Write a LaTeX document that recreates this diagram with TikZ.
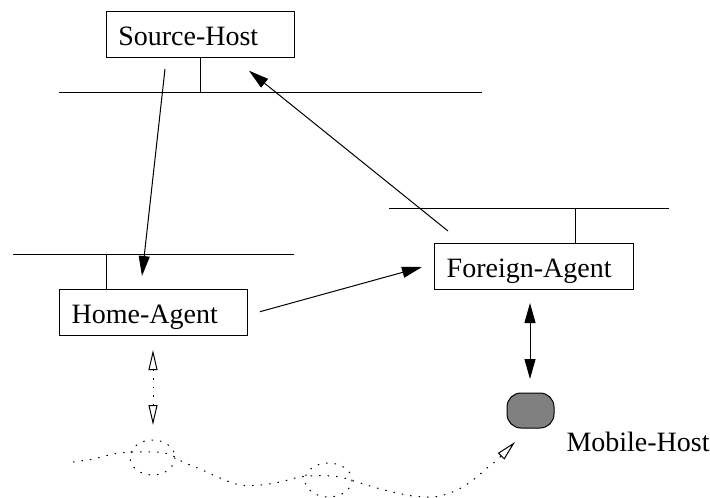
\documentclass[tikz,border=0pt]{standalone}
\usepackage{fontspec}
\setmainfont{Liberation Serif}
\usetikzlibrary{arrows.meta}
\begin{document}
\begin{tikzpicture}[x=1pt,y=-1pt,line width=1pt,
  hostbox/.style={draw,rectangle,inner ysep=0pt,text height=23.4pt,text depth=0pt,
    align=left,minimum height=46pt,font=\fontsize{28}{30}\selectfont},
  bus/.style={line width=1pt},
  solidarrow/.style={-{Triangle[length=20pt,width=11pt]}},
  dotline/.style={dash pattern=on 1.5pt off 7pt},
  openarrow/.style={-{Triangle[open,length=20pt,width=9pt,fill=white]}}
]
\useasboundingbox (0,0) rectangle (710,498);

% hosts
\node[hostbox,minimum width=187.3pt,inner xsep=11.5pt,text width=164.3pt] (src) at (200.4,34) {Source-Host};
\node[hostbox,minimum width=198.3pt,inner xsep=12pt,text width=174.3pt] (fa) at (533.85,266) {Foreign-Agent};
\node[hostbox,minimum width=188pt,inner xsep=12.7pt,text width=162.6pt] (ha) at (153,312) {Home-Agent};
\node[draw,fill={rgb,255:red,128;green,128;blue,128},rounded corners=14pt,minimum width=47pt,minimum height=35pt,inner sep=0pt] (mh) at (530.5,410.5) {};
\node[anchor=base west,inner sep=0pt,font=\fontsize{28}{30}\selectfont] (mhl) at (566,451.7) {Mobile-Host};

% buses
\coordinate (tb1) at (59,92.3);  \coordinate (tb2) at (482,92.3);
\coordinate (fb1) at (389,208);  \coordinate (fb2) at (669,208);
\coordinate (hb1) at (13,254);   \coordinate (hb2) at (294,254);
\draw[bus] (tb1) -- (tb2);
\draw[bus] (fb1) -- (fb2);
\draw[bus] (hb1) -- (hb2);
\draw (src.south) -- (src.south |- tb1);
\coordinate (fs) at (575,208);
\draw (fs) -- (fs |- fa.north);
\coordinate (hs) at (106,254);
\draw (hs) -- (hs |- ha.north);

% arrows
\coordinate (a1s) at (165,69);   \coordinate (a1e) at (142,276);
\coordinate (a2s) at (448,231);  \coordinate (a2e) at (249,70.7);
\coordinate (a3s) at (260,311.7); \coordinate (a3e) at (422,267);
\coordinate (a4s) at (530,303);  \coordinate (a4e) at (530,379);
\draw[solidarrow] (a1s) -- (a1e);
\draw[solidarrow] (a2s) -- (a2e);
\draw[solidarrow] (a3s) -- (a3e);
\draw[{Triangle[length=20pt,width=11pt]}-{Triangle[length=20pt,width=11pt]}] (a4s) -- (a4e);

% home dotted double arrow
\coordinate (d1s) at (153,350);  \coordinate (d1e) at (153,425);
\draw[dotline,{Triangle[open,length=20pt,width=9pt,fill=white]}-{Triangle[open,length=20pt,width=9pt,fill=white]}] (d1s) -- (d1e);

% wandering path
\draw[dotline,openarrow] plot[smooth,tension=0.6] coordinates {
 (73,462) (93,459) (113,454) (125,452.5) (137,452) (153,452) (165,453) (175,457)
 (183,462) (200,469) (220,478) (240,485) (260,485) (280,482) (300,477) (320,475.5)
 (340,477) (357,482) (377,488) (397,493) (417,496.5) (437,496.5) (457,490) (473,480)
 (487,468) (497,460) (515,442)};
\draw[dotline] (152.5,457.5) ellipse [x radius=22.5, y radius=17.5];
\draw[dotline] (328.5,480) ellipse [x radius=23.5, y radius=17];
\end{tikzpicture}
\end{document}
